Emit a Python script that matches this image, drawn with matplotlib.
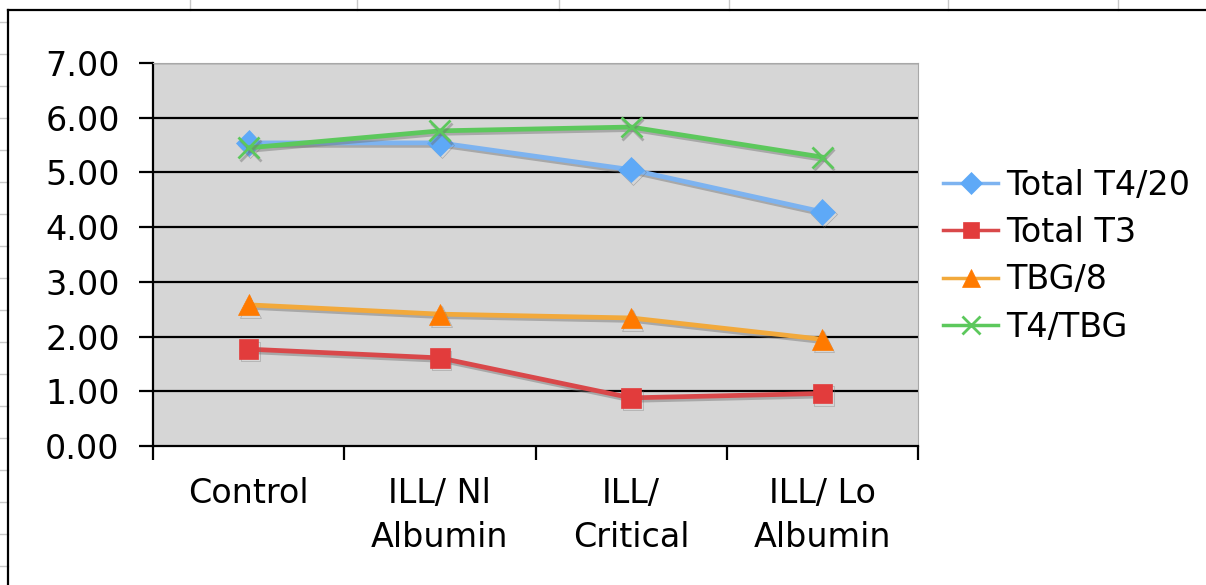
import matplotlib
matplotlib.use('Agg')
import matplotlib.pyplot as plt
import matplotlib.patheffects as pe
from matplotlib.lines import Line2D
import numpy as np

# data
categories = ['Control', 'ILL/ Nl\nAlbumin', 'ILL/\nCritical', 'ILL/ Lo\nAlbumin']
total_t4_20 = [5.54, 5.54, 5.05, 4.28]
total_t3 = [1.77, 1.61, 0.88, 0.96]
tbg_8 = [2.58, 2.41, 2.34, 1.95]
t4_tbg = [5.45, 5.76, 5.83, 5.28]
series_names = ['Total T4/20', 'Total T3', 'TBG/8', 'T4/TBG']
yticks = [0, 1, 2, 3, 4, 5, 6, 7]

W, H = 1206, 585
fig = plt.figure(figsize=(W / 100, H / 100), dpi=100)
fig.patch.set_facecolor('white')

# spreadsheet grid behind the chart object
for x in [190, 357, 559, 729, 948, 1118]:
    fig.add_artist(Line2D([x / W, x / W], [1 - 10 / H, 1], color='#c8c8c8', lw=1))
for y in np.arange(22, H, 32):
    fig.add_artist(Line2D([0, 8 / W], [1 - y / H, 1 - y / H], color='#c8c8c8', lw=1))
# chart frame
fig.add_artist(Line2D([8 / W, 1], [1 - 10 / H, 1 - 10 / H], color='black', lw=1.6))
fig.add_artist(Line2D([8 / W, 8 / W], [0, 1 - 10 / H], color='black', lw=1.6))

ax = fig.add_axes([153 / W, 1 - 446 / H, (918 - 153) / W, (446 - 63) / H])
ax.set_facecolor('#d6d6d6')
ax.set_xlim(0, 4)
ax.set_ylim(0, 7)

for v in yticks[1:]:
    ax.axhline(v, color='black', lw=1.6, zorder=1)

ax.set_yticks(yticks)
ax.set_yticklabels(['{:.2f}'.format(v) for v in yticks])
ax.set_xticks([0, 1, 2, 3, 4])
ax.set_xticklabels([])
ax.set_xticks(np.arange(4) + 0.5, minor=True)
ax.set_xticklabels(categories, minor=True, linespacing=1.45)

ax.tick_params(axis='y', length=10, width=1.6, pad=14, labelsize=24, direction='out')
ax.tick_params(axis='x', which='major', length=10, width=1.6, direction='out')
ax.tick_params(axis='x', which='minor', length=0, pad=22, labelsize=24)
for lab in ax.get_xticklabels(minor=True):
    lab.set_verticalalignment('top')

ax.spines['left'].set_linewidth(1.6)
ax.spines['bottom'].set_linewidth(1.6)
ax.spines['top'].set_color('#a8a8a8')
ax.spines['right'].set_color('#a8a8a8')

xs = np.arange(4) + 0.5
shadow = [pe.SimpleLineShadow(offset=(1.2, -1.8), shadow_color='#707070', alpha=0.45), pe.Normal()]

styles = [
    (total_t4_20, '#7db3f0', '#5ea9f7', 'D', 13),
    (total_t3, '#d9484a', '#e23c3c', 's', 14),
    (tbg_8, '#f2a93b', '#ff7a00', '^', 15),
    (t4_tbg, '#5cc85c', '#5cc85c', 'x', 15),
]
handles = []
for (vals, lc, mc, mk, ms), name in zip(styles, series_names):
    line, = ax.plot(xs, vals, color=lc, lw=3.4, marker=mk, markersize=ms,
                    markerfacecolor=mc, markeredgecolor=mc, markeredgewidth=2 if mk == 'x' else 0.5,
                    zorder=3, label=name)
    line.set_path_effects(shadow)
    handles.append(Line2D([], [], color=lc, lw=2.5, marker=mk, markersize=ms * 0.85,
                          markerfacecolor=mc, markeredgecolor=mc,
                          markeredgewidth=2 if mk == 'x' else 0.5))

fig.legend(handles, series_names, loc='center left', bbox_to_anchor=(943 / W, 1 - 256 / H),
           frameon=False, fontsize=24, handlelength=1.65, handletextpad=0.25,
           labelspacing=0.43, borderpad=0, borderaxespad=0)

fig.savefig('out.png', dpi=100)
